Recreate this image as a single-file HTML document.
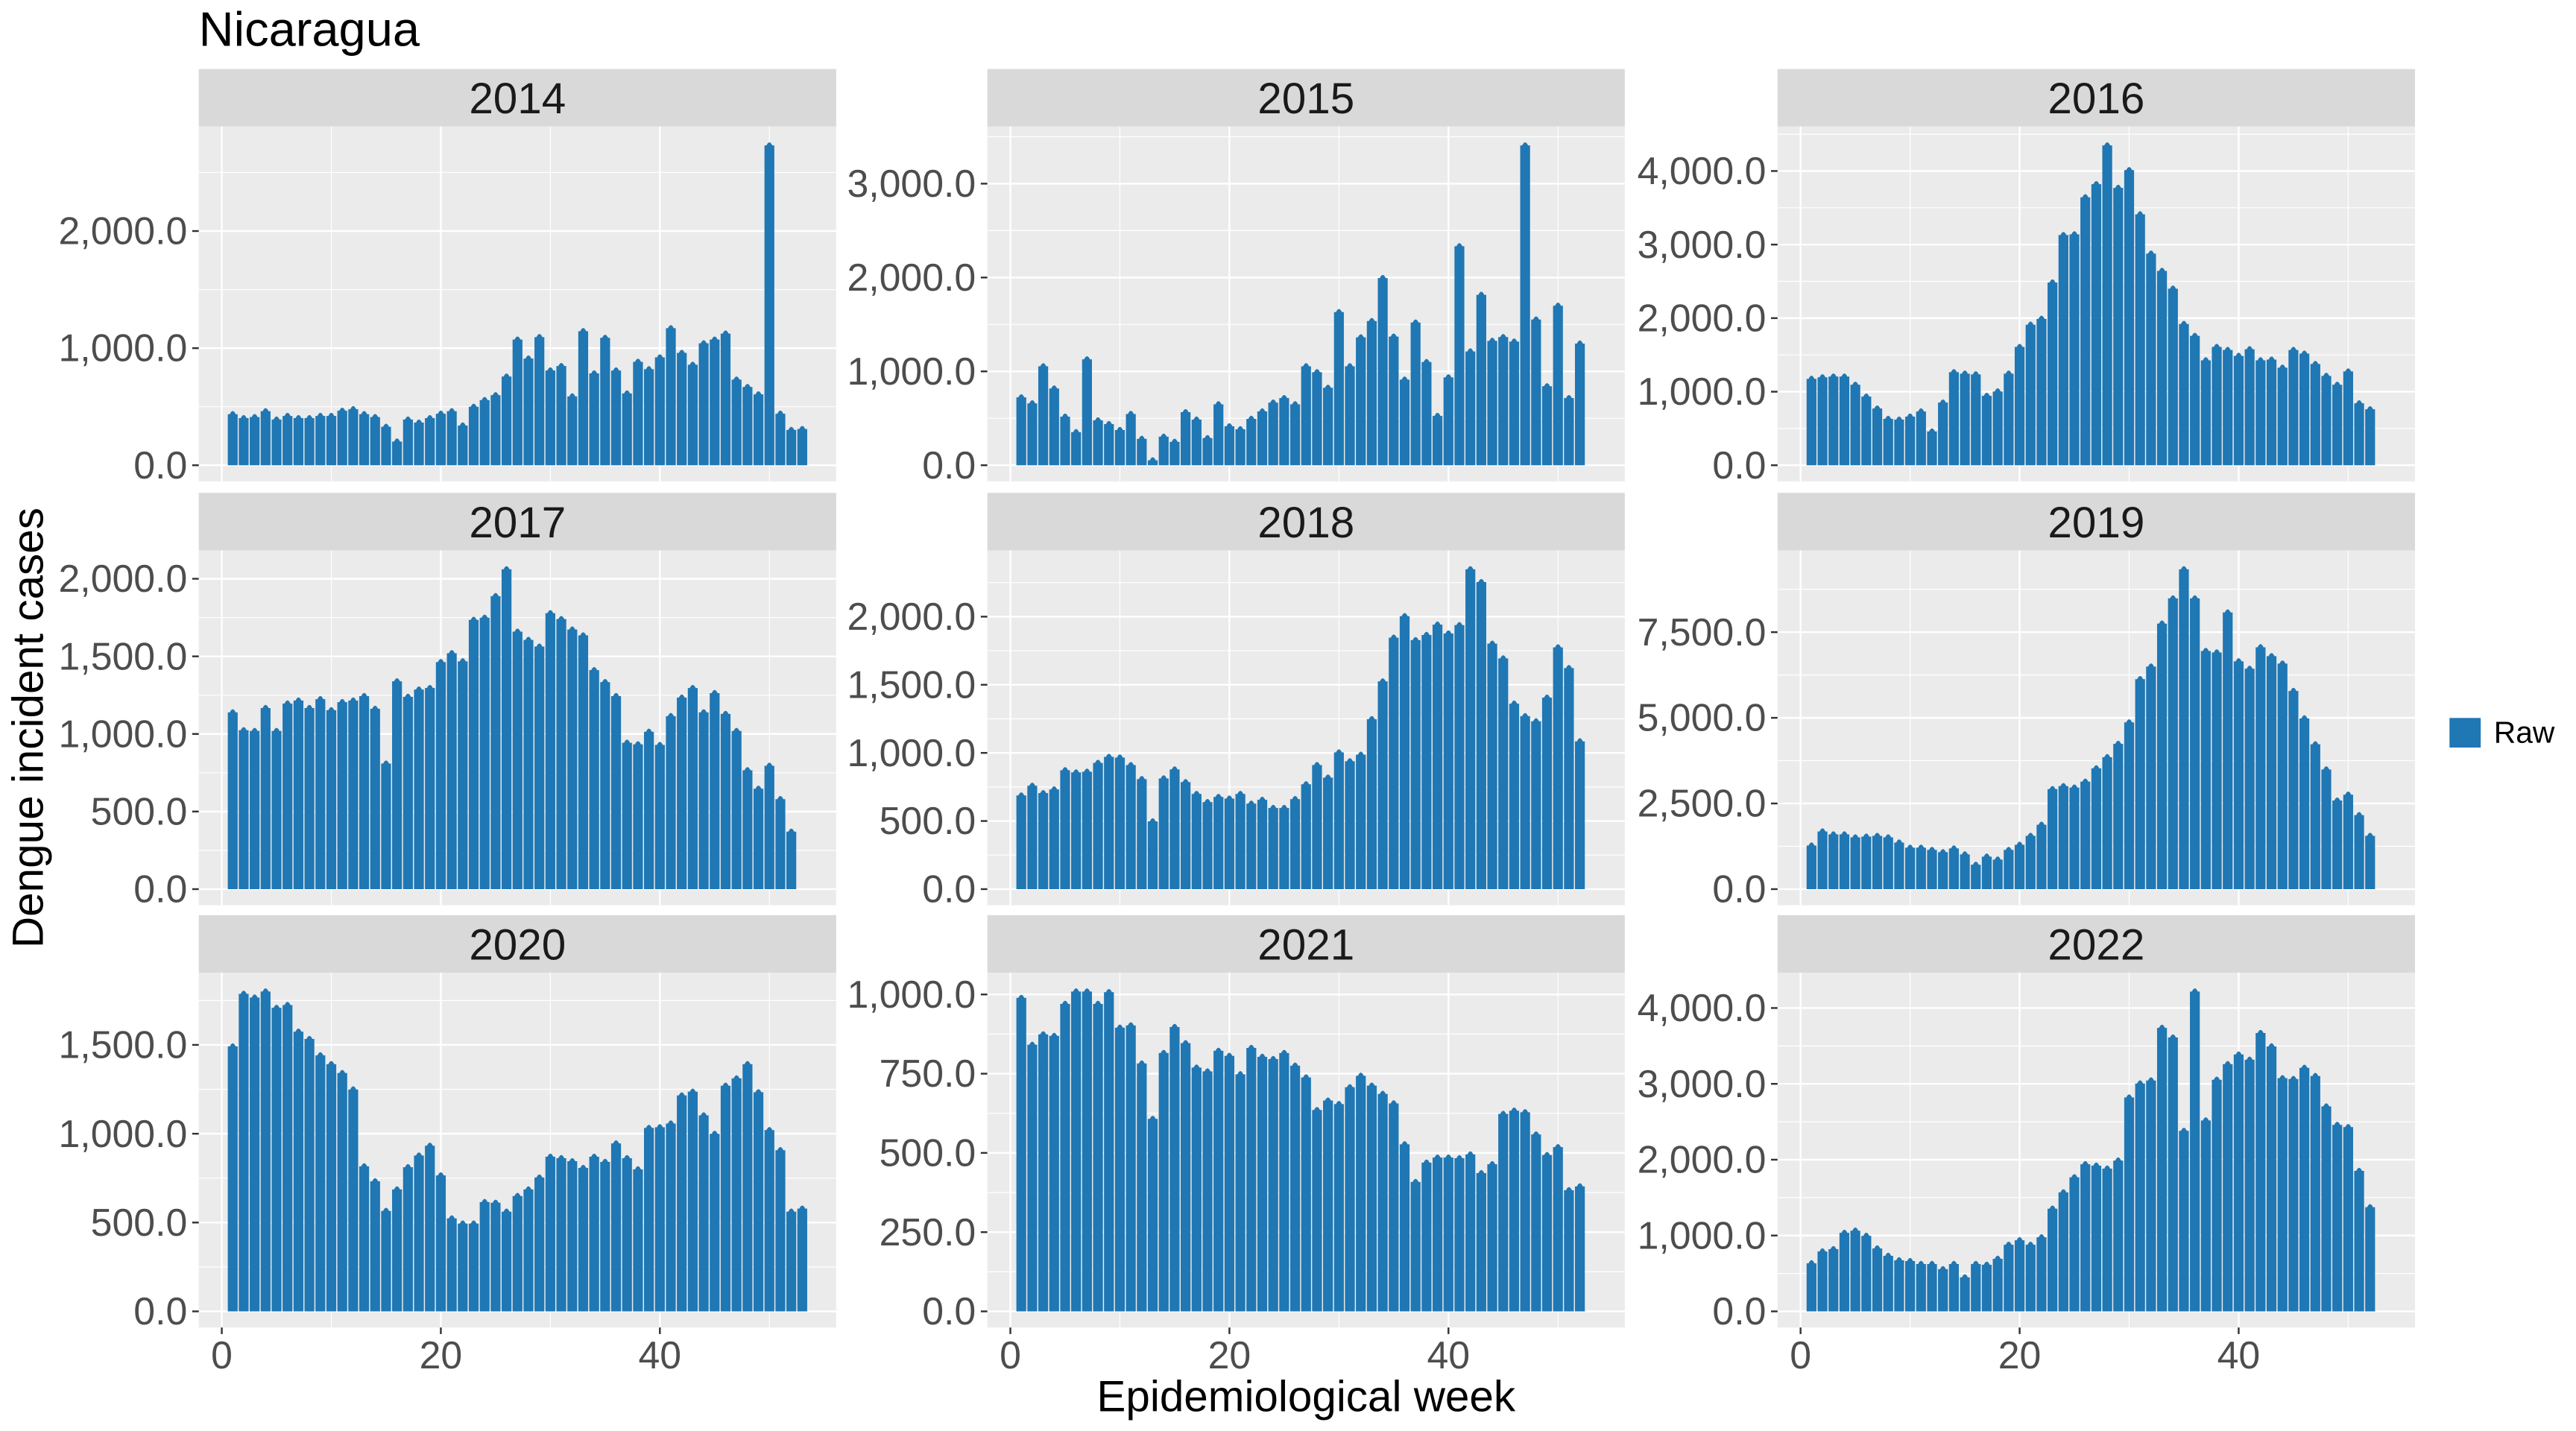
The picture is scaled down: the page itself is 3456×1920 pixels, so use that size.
<!DOCTYPE html>
<html><head><meta charset="utf-8"><style>
html,body{margin:0;padding:0;background:#fff;}
svg{display:block;font-family:"Liberation Sans",Arial,sans-serif;}
</style></head><body>
<svg id="chart" width="3456" height="1920" viewBox="0 0 1568 871" preserveAspectRatio="none" xmlns="http://www.w3.org/2000/svg">
<rect x="0" y="0" width="1568" height="871" fill="#fff"/>
<text x="121" y="28" font-size="29.5" fill="#000">Nicaragua</text>
<text x="795" y="859" font-size="26.5" text-anchor="middle" fill="#000">Epidemiological week</text>
<text transform="translate(26,443) rotate(-90)" font-size="26.5" text-anchor="middle" fill="#000">Dengue incident cases</text>
<g>
<rect x="1491" y="437" width="19" height="18" fill="#1f77b4"/>
<text x="1518" y="452" font-size="18.5" fill="#000">Raw</text>
</g>
<g id="panels"></g>
</svg>
<script>
const years = ["2014","2015","2016","2017","2018","2019","2020","2021","2022"];
const v2014 = [460,426,435,485,414,445,426,426,445,445,489,502,460,435,352,226,414,388,426,464,485,363,523,580,622,781,1097,935,1118,833,871,612,1169,808,1112,833,637,907,844,945,1194,983,882,1065,1097,1148,755,692,629,2755,464,325,333];
const v2015 = [753,689,1084,847,547,382,1158,508,468,405,576,311,82,334,279,595,516,318,679,445,413,524,603,697,745,679,1084,1021,855,1661,1084,1392,1566,2024,1400,942,1550,1129,555,966,2363,1242,1845,1355,1395,1347,3437,1582,871,1729,745,1326];
const v2016 = [1212,1233,1243,1243,1132,971,809,668,658,699,769,497,890,1303,1283,1273,981,1041,1283,1646,1948,2029,2522,3167,3177,3681,3859,4386,3809,4050,3449,2915,2680,2438,1958,1797,1464,1646,1605,1525,1615,1464,1474,1364,1605,1555,1414,1253,1132,1313,880,799];
const v2017 = [1157,1042,1037,1185,1037,1214,1233,1185,1242,1171,1223,1233,1262,1180,827,1357,1257,1304,1314,1481,1538,1486,1753,1767,1906,2079,1677,1624,1581,1796,1758,1691,1653,1429,1352,1262,961,951,1032,947,1133,1252,1314,1157,1281,1147,1037,784,665,813,598,388];
const v2018 = [708,779,725,752,893,877,882,947,991,986,931,828,518,833,899,806,719,659,697,685,719,648,676,616,616,681,790,931,839,1024,959,1007,1268,1545,1866,2024,1848,1886,1962,1897,1958,2368,2274,1822,1714,1382,1290,1252,1426,1795,1643,1105];
const v2019 = [1354,1765,1679,1679,1592,1614,1635,1592,1441,1290,1290,1225,1160,1268,1095,793,1031,944,1225,1376,1635,1960,3001,3088,3045,3218,3607,3931,4320,4947,6210,6578,7831,8566,9416,8566,7032,6988,8156,6729,6513,7140,6880,6664,5865,5065,4308,3573,2666,2839,2241,1635];
const v2020 = [1507,1803,1782,1816,1724,1740,1590,1549,1457,1407,1357,1265,832,748,581,702,827,893,948,781,539,510,510,631,627,577,665,702,769,886,878,861,823,886,857,961,878,815,1048,1052,1073,1231,1252,1119,1015,1286,1327,1407,1249,1036,923,577,594];
const v2021 = [998,850,883,878,979,1018,1018,979,1016,904,911,791,616,824,906,855,778,766,831,815,757,840,812,805,824,784,747,644,674,663,716,752,721,695,665,536,417,478,494,494,492,504,445,473,632,642,637,567,502,527,391,403];
const v2022 = [671,827,857,1072,1101,1033,866,769,710,700,661,661,593,661,485,661,651,730,915,974,915,1013,1391,1606,1805,1977,1958,1919,2026,2857,3042,3081,3775,3648,2417,4254,2554,3091,3296,3423,3355,3707,3531,3111,3101,3248,3140,2739,2495,2466,1889,1410];
const t2014 = [0,1000,2000];
const t2015 = [0,1000,2000,3000];
const t2016 = [0,1000,2000,3000,4000];
const t2017 = [0,500,1000,1500,2000];
const t2018 = [0,500,1000,1500,2000];
const t2019 = [0,2500,5000,7500];
const t2020 = [0,500,1000,1500];
const t2021 = [0,250,500,750,1000];
const t2022 = [0,1000,2000,3000,4000];
const xTicks = [0,20,40];

const series = [v2014,v2015,v2016,v2017,v2018,v2019,v2020,v2021,v2022];
const ticks = [t2014,t2015,t2016,t2017,t2018,t2019,t2020,t2021,t2022];
const NS = "http://www.w3.org/2000/svg";
const root = document.getElementById("panels");
const colL = [121,601,1082], PW = 388;
const rowStrip = [42,300,557], STRIP_H = 35, PH = 216;
const XMIN = -2.1, XMAX = 56.1;
function mk(tag, attrs, parent){const e=document.createElementNS(NS,tag);for(const k in attrs)e.setAttribute(k,attrs[k]);parent.appendChild(e);return e;}
function fmt(v){return v.toLocaleString("en-US",{minimumFractionDigits:1,maximumFractionDigits:1});}

series.forEach((vals,i)=>{
  const c=i%3, r=Math.floor(i/3);
  const L=colL[c], T=rowStrip[r]+STRIP_H;
  const g=mk("g",{},root);
  
  
  const xs=w=>L+(w-XMIN)/(XMAX-XMIN)*PW;
  const M=Math.max(...vals);
  const ymin=-0.05*M, ymax=1.05*M;
  const ys=v=>T+PH-(v-ymin)/(ymax-ymin)*PH;
  const strip=mk("rect",{x:L,y:rowStrip[r],width:PW,height:STRIP_H,fill:"#d9d9d9"},g);
  
  
  const st=mk("text",{x:L+PW/2,y:rowStrip[r]+27,"font-size":26.5,"text-anchor":"middle",fill:"#1a1a1a"},g);
  st.textContent=years[i];
  
  
  const bg=mk("rect",{x:L,y:T,width:PW,height:PH,fill:"#ebebeb"},g);
  
  
  const tk=ticks[i];
  const step=tk[1]-tk[0];
  for(let k=0;k<=tk.length;k++){
    const v=tk[0]+step*(k-0.5);
    const y=ys(v);
    if(y>T&&y<T+PH) mk("line",{x1:L,x2:L+PW,y1:y,y2:y,stroke:"#fff","stroke-width":0.55},g);
  }
  [10,30,50].forEach(w=>{const x=xs(w);mk("line",{x1:x,x2:x,y1:T,y2:T+PH,stroke:"#fff","stroke-width":0.55},g);});
  tk.forEach(v=>{const y=ys(v);mk("line",{x1:L,x2:L+PW,y1:y,y2:y,stroke:"#fff","stroke-width":1.1},g);});
  xTicks.forEach(w=>{const x=xs(w);mk("line",{x1:x,x2:x,y1:T,y2:T+PH,stroke:"#fff","stroke-width":1.1},g);});
  tk.forEach(v=>{
    const y=ys(v);
    mk("line",{x1:L-4,x2:L,y1:y,y2:y,stroke:"#333","stroke-width":1.1},g);
    const t=mk("text",{x:L-7,y:y+8,"font-size":23.5,"text-anchor":"end",fill:"#4d4d4d"},g);
    t.textContent=fmt(v);
    
    
  });
  const bw=0.9*PW/(XMAX-XMIN);
  vals.forEach((v,j)=>{
    const w=j+1, cx=xs(w), y0=ys(0), yt=ys(v)-1.5;
    const cap=3.2;
    const d="M"+(cx-bw/2)+","+y0+"V"+(yt+cap)+"H"+(cx-bw*0.3)+"Q"+cx+","+(yt-0.6)+" "+(cx+bw*0.3)+","+(yt+cap)+"H"+(cx+bw/2)+"V"+y0+"Z";
    const b=mk("path",{d:d,fill:"#1f77b4"},g);
    
    
  });
  if(r===2){
    xTicks.forEach(w=>{
      const x=xs(w);
      mk("line",{x1:x,x2:x,y1:T+PH,y2:T+PH+4,stroke:"#333","stroke-width":1.1},g);
      const t=mk("text",{x:x,y:T+PH+25,"font-size":23.5,"text-anchor":"middle",fill:"#4d4d4d"},g);
      t.textContent=String(w);
      
      
    });
  }
});
</script>
</body></html>
